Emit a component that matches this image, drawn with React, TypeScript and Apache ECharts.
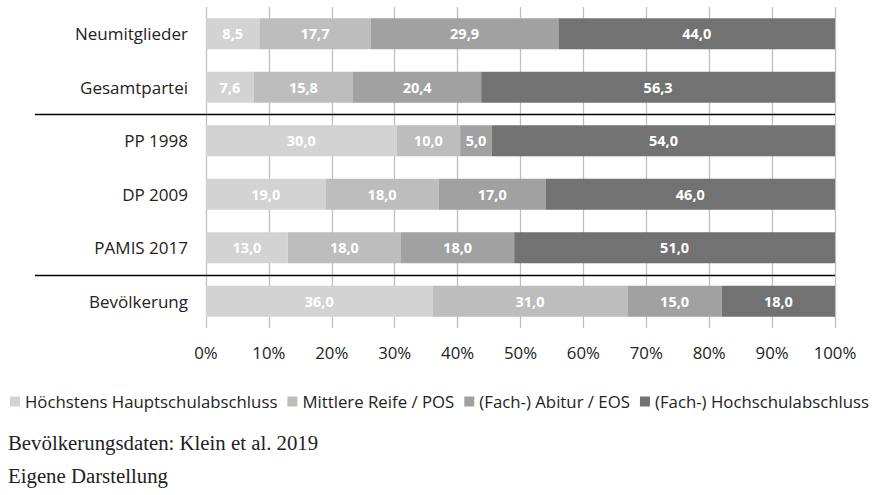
import React, { useEffect, useRef } from "react";
import * as echarts from "echarts";

const categories = ["Neumitglieder", "Gesamtpartei", "PP 1998", "DP 2009", "PAMIS 2017", "Bevölkerung"];
const seriesNames = [
  "Höchstens Hauptschulabschluss",
  "Mittlere Reife / POS",
  "(Fach-) Abitur / EOS",
  "(Fach-) Hochschulabschluss",
];
const hauptschule = [8.5, 7.6, 30.0, 19.0, 13.0, 36.0];
const mittlereReife = [17.7, 15.8, 10.0, 18.0, 18.0, 31.0];
const abitur = [29.9, 20.4, 5.0, 17.0, 18.0, 15.0];
const hochschule = [44.0, 56.3, 54.0, 46.0, 51.0, 18.0];
const xTicks = [0, 10, 20, 30, 40, 50, 60, 70, 80, 90, 100];
const colors = ["#d3d3d3", "#bdbdbd", "#a1a1a1", "#727272"];
const footnotes = ["Bevölkerungsdaten: Klein et al. 2019", "Eigene Darstellung"];

const FONT = "'Open Sans', Lato, sans-serif";
const SERIF = "20.8px 'Liberation Serif', 'DejaVu Serif', serif";

export default function App() {
  const ref = useRef<HTMLDivElement>(null);
  useEffect(() => {
    if (!ref.current) return;
    const chart = echarts.init(ref.current, undefined, { renderer: "svg" });
    const raw = [hauptschule, mittlereReife, abitur, hochschule];
    const totals = categories.map((_, i) => raw.reduce((s, arr) => s + arr[i], 0));
    const series = raw.map((arr, si) => ({
      name: seriesNames[si],
      type: "bar",
      stack: "total",
      barWidth: 31,
      itemStyle: { color: colors[si] },
      label: {
        show: true,
        position: "inside",
        color: "#ffffff",
        fontFamily: FONT,
        fontWeight: "bold",
        fontSize: 14.5,
        formatter: (p: any) => p.data.raw.toFixed(1).replace(".", ","),
      },
      data: arr.map((v, i) => ({ value: (v / totals[i]) * 100, raw: v })),
    }));
    chart.setOption({
      animation: false,
      textStyle: { fontFamily: FONT },
      color: colors,
      grid: { left: 206, right: 44, top: 7, bottom: 167, containLabel: false },
      legend: {
        left: 5,
        top: 388,
        itemWidth: 10,
        itemHeight: 10,
        itemGap: 10,
        icon: "rect",
        textStyle: { fontFamily: FONT, fontSize: 16.8, color: "#222", padding: [0, 0, 0, 0] },
        data: seriesNames,
      },
      xAxis: {
        type: "value",
        min: 0,
        max: 100,
        interval: 10,
        axisLine: { show: false },
        axisTick: { show: false },
        splitLine: { show: true, lineStyle: { color: "#bfbfbf", width: 1.3 } },
        axisLabel: {
          fontFamily: FONT,
          fontSize: 16.8,
          color: "#222",
          margin: 16,
          formatter: (v: number) => (xTicks.includes(v) ? v + "%" : ""),
        },
      },
      yAxis: {
        type: "category",
        inverse: true,
        data: categories,
        axisLine: { show: false },
        axisTick: { show: false },
        axisLabel: { fontFamily: FONT, fontSize: 17, color: "#222", margin: 18 },
      },
      series,
    });
    const y1 = chart.convertToPixel({ yAxisIndex: 0 }, 1) as number;
    const y2 = chart.convertToPixel({ yAxisIndex: 0 }, 2) as number;
    const y4 = chart.convertToPixel({ yAxisIndex: 0 }, 4) as number;
    const y5 = chart.convertToPixel({ yAxisIndex: 0 }, 5) as number;
    const xEnd = chart.convertToPixel({ xAxisIndex: 0 }, 100) as number;
    const sepA = Math.round((y1 + y2) / 2) + 0.5;
    const sepB = Math.round((y4 + y5) / 2) + 0.5;
    chart.setOption({
      graphic: [
        { type: "line", shape: { x1: 35, y1: sepA, x2: xEnd, y2: sepA }, style: { stroke: "#000", lineWidth: 1.3 }, z: 10 },
        { type: "line", shape: { x1: 35, y1: sepB, x2: xEnd, y2: sepB }, style: { stroke: "#000", lineWidth: 1.3 }, z: 10 },
        {
          type: "text",
          left: 8,
          top: 432,
          style: { text: footnotes[0], font: SERIF, fill: "#222" },
        },
        {
          type: "text",
          left: 8,
          top: 465,
          style: { text: footnotes[1], font: SERIF, fill: "#222" },
        },
      ],
    });
    return () => chart.dispose();
  }, []);
  return <div ref={ref} style={{ width: 879, height: 495, position: "absolute", left: 0, top: 0 }} />;
}
